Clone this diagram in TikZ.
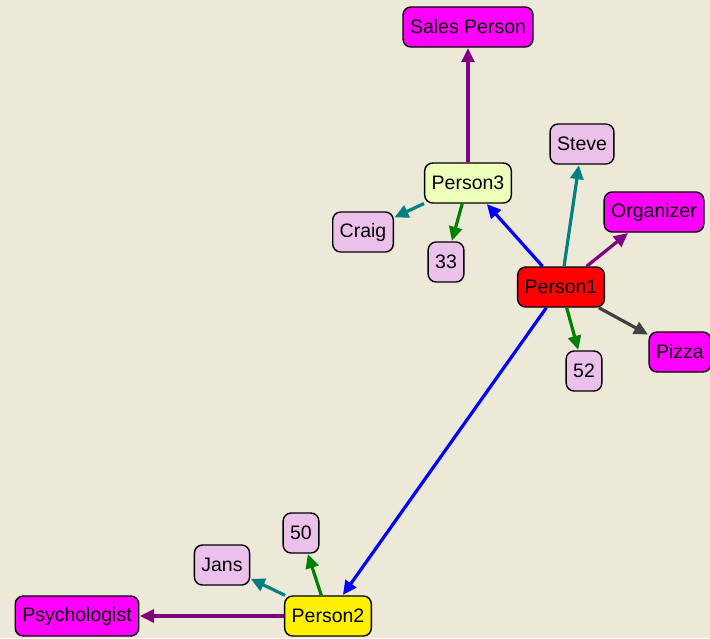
\documentclass[tikz,border=0pt]{standalone}
\usepackage{fontspec}
\setmainfont{Liberation Sans}
\usetikzlibrary{arrows.meta}
\definecolor{bgbeige}{HTML}{ECE9D8}
\definecolor{vmag}{HTML}{FF00FF}
\definecolor{lpink}{HTML}{EBC1EB}
\definecolor{lgreen}{HTML}{EEFFBB}
\definecolor{epurple}{HTML}{800080}
\definecolor{eteal}{HTML}{008080}
\definecolor{egreen}{HTML}{008000}
\definecolor{eblue}{HTML}{0000FF}
\definecolor{egray}{HTML}{404040}
\begin{document}
\begin{tikzpicture}[x=1pt,y=-1pt,
  vbox/.style={draw=black, line width=1.4pt, rounded corners=8pt,
    minimum height=40pt, inner xsep=7pt, inner ysep=0pt,
    font=\fontsize{19.5}{22}\selectfont},
  role/.style={vbox, fill=vmag},
  val/.style={vbox, fill=lpink},
  link/.style={line width=3.2pt, -{Triangle[length=14pt,width=13pt]}, shorten >=0.5pt}
]
\fill[bgbeige] (0,0) rectangle (710,638);
\useasboundingbox (0,0) rectangle (710,638);

% nodes
\node[role] (sales) at (468,27) {Sales Person};
\node[val] (steve) at (582,144) {Steve};
\node[role] (org) at (654,212) {Organizer};
\node[vbox, fill=lgreen] (p3) at (468,183) {Person3};
\node[val] (craig) at (363,232) {Craig};
\node[val] (v33) at (446,262) {33};
\node[vbox, fill=red] (p1) at (561,287) {Person1};
\node[role] (pizza) at (680,352) {Pizza};
\node[val] (v52) at (584,371) {52};
\node[val] (v50) at (301,533) {50};
\node[val] (jans) at (222,565) {Jans};
\node[role] (psy) at (77,616) {Psychologist};
\node[vbox, fill=yellow] (p2) at (328,616) {Person2};

% connectors
\draw[link, epurple] (p3) -- (sales);
\draw[link, eteal] (p3) -- (craig);
\draw[link, egreen] (p3) -- (v33);
\draw[link, eblue] (p1) -- (p3);
\draw[link, eteal] (p1) -- (steve);
\draw[link, epurple] (p1) -- (org);
\draw[link, egray] (p1) -- (pizza);
\draw[link, egreen] (p1) -- (v52);
\draw[link, eblue] (p1) -- (p2);
\draw[link, egreen] (p2) -- (v50);
\draw[link, eteal] (p2) -- (jans);
\draw[link, epurple] (p2) -- (psy);
\end{tikzpicture}
\end{document}
